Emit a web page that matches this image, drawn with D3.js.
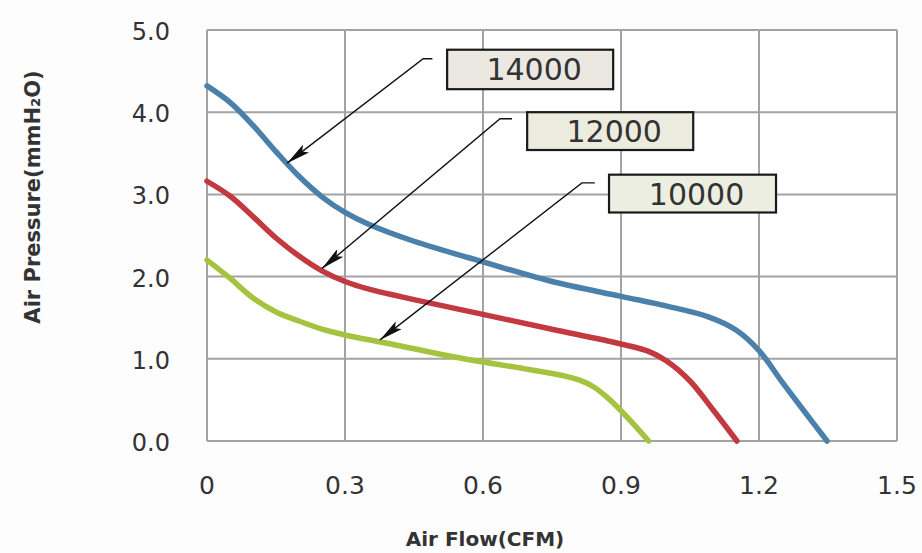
<!DOCTYPE html>
<html>
  <head>
    <style type="text/css">
      body { margin:0; background:#fdfdfd; }
      text { font-family:"DejaVu Sans",sans-serif; fill:#333; }
      .grid line { stroke:#a3a3a3; stroke-width:2; }
      .curve { fill:none; stroke-width:5.5; stroke-linecap:round; stroke-linejoin:round; }
    </style>
  </head>
  <body>
    <div id="canvas"></div>
    <script type="text/javascript" src="https://cdn.jsdelivr.net/npm/d3@7/dist/d3.min.js"></script>
    <script type="text/javascript">
      // ticks
      var xTicks = [0, 0.3, 0.6, 0.9, 1.2, 1.5];
      var xTickLabels = ['0', '0.3', '0.6', '0.9', '1.2', '1.5'];
      var yTicks = [0, 1, 2, 3, 4, 5];
      var yTickLabels = ['0.0', '1.0', '2.0', '3.0', '4.0', '5.0'];

      // fan curves: [airflow CFM, pressure mmH2O]
      var rpm14000 = [[0,4.32],[0.05,4.12],[0.1,3.84],[0.15,3.52],[0.2,3.22],[0.25,2.97],[0.3,2.78],
                      [0.35,2.64],[0.45,2.43],[0.6,2.18],[0.75,1.94],[0.9,1.76],[1.0,1.64],[1.09,1.51],
                      [1.15,1.35],[1.2,1.1],[1.25,0.72],[1.3,0.35],[1.348,0]];
      var rpm12000 = [[0,3.16],[0.05,2.98],[0.1,2.73],[0.15,2.47],[0.2,2.25],[0.25,2.07],[0.3,1.94],
                      [0.35,1.85],[0.45,1.72],[0.6,1.54],[0.75,1.36],[0.9,1.18],[0.96,1.09],[1.0,0.97],
                      [1.05,0.73],[1.1,0.38],[1.152,0]];
      var rpm10000 = [[0,2.2],[0.05,1.98],[0.1,1.74],[0.15,1.57],[0.2,1.46],[0.25,1.36],[0.3,1.29],
                      [0.4,1.18],[0.55,1.01],[0.7,0.87],[0.77,0.8],[0.81,0.74],[0.84,0.66],[0.87,0.53],
                      [0.91,0.31],[0.96,0]];

      var seriesNames = ['14000', '12000', '10000'];
      var seriesData = [rpm14000, rpm12000, rpm10000];
      var seriesColors = ['#4a80aa', '#c23a40', '#a5c33f'];

      // callout boxes: box corner/size in data units, elbow and arrow tip on the curve
      var callouts = [
        {box:[0.522, 4.76, 0.361, 0.48], elbow:[0.47, 4.65, 0.49], tip:[0.174, 3.38], fill:'#ebe7e1'},
        {box:[0.696, 4.0, 0.361, 0.46], elbow:[0.637, 3.92, 0.663], tip:[0.25, 2.10], fill:'#ebecde'},
        {box:[0.874, 3.24, 0.363, 0.46], elbow:[0.815, 3.14, 0.843], tip:[0.376, 1.23], fill:'#eceee2'}
      ];

      var margin = {top:30, left:207},
          width = 690,
          height = 411;

      var svg = d3.select('#canvas').append('svg')
                  .attr('width', 922)
                  .attr('height', 553);

      svg.append('defs').append('marker')
         .attr('id', 'head')
         .attr('viewBox', '0 0 24 10')
         .attr('refX', 24).attr('refY', 5)
         .attr('markerWidth', 24).attr('markerHeight', 10)
         .attr('markerUnits', 'userSpaceOnUse')
         .attr('orient', 'auto')
         .append('path').attr('d', 'M0,0 L24,5 L0,10 L5,5 Z').attr('fill', '#111');

      var g = svg.append('g').attr('transform', 'translate(' + margin.left + ',' + margin.top + ')');

      var x = d3.scaleLinear().domain([0, 1.5]).range([0, width]);
      var y = d3.scaleLinear().domain([0, 5]).range([height, 0]);

      g.append('rect').attr('width', width).attr('height', height).attr('fill', '#fff');

      var grid = g.append('g').attr('class', 'grid');
      grid.selectAll('.vx').data(xTicks).enter().append('line')
          .attr('x1', function (d) { return x(d); }).attr('x2', function (d) { return x(d); })
          .attr('y1', 0).attr('y2', height);
      grid.selectAll('.hy').data(yTicks).enter().append('line')
          .attr('y1', function (d) { return y(d); }).attr('y2', function (d) { return y(d); })
          .attr('x1', 0).attr('x2', width);

      // tick labels
      g.selectAll('.xt').data(xTicks).enter().append('text')
       .attr('x', function (d) { return x(d); })
       .attr('y', height + 53)
       .attr('text-anchor', 'middle')
       .style('font-size', '25px')
       .text(function (d, i) { return xTickLabels[i]; });
      g.selectAll('.yt').data(yTicks).enter().append('text')
       .attr('x', -37)
       .attr('y', function (d) { return y(d) + 10; })
       .attr('text-anchor', 'end')
       .style('font-size', '24px')
       .text(function (d, i) { return yTickLabels[i]; });

      var line = d3.line()
                   .x(function (d) { return x(d[0]); })
                   .y(function (d) { return y(d[1]); })
                   .curve(d3.curveCatmullRom.alpha(0.5));

      g.selectAll('.curve').data(seriesData).enter().append('path')
       .attr('class', 'curve')
       .attr('stroke', function (d, i) { return seriesColors[i]; })
       .attr('d', line);

      // callouts
      callouts.forEach(function (c, i) {
        g.append('polyline')
         .attr('points', [[x(c.elbow[2]), y(c.elbow[1])], [x(c.elbow[0]), y(c.elbow[1])], [x(c.tip[0]), y(c.tip[1])]].join(' '))
         .attr('fill', 'none').attr('stroke', '#111').attr('stroke-width', 1.4)
         .attr('marker-end', 'url(#head)');
        var bx = x(c.box[0]), by = y(c.box[1]),
            bw = x(c.box[2]) - x(0), bh = y(0) - y(c.box[3]);
        g.append('rect')
         .attr('x', bx).attr('y', by).attr('width', bw).attr('height', bh)
         .attr('fill', c.fill).attr('stroke', '#1a1a1a').attr('stroke-width', 2.2);
        g.append('text')
         .attr('x', bx + bw / 2 + 4).attr('y', by + bh / 2 + 11)
         .attr('text-anchor', 'middle')
         .style('font-size', '30px')
         .text(seriesNames[i]);
      });

      // axis titles
      svg.append('text')
         .attr('transform', 'translate(40,197) rotate(-90)')
         .attr('text-anchor', 'middle')
         .style('font-size', '21px').style('font-weight', 'bold')
         .text('Air Pressure(mmH\u2082O)');
      svg.append('text')
         .attr('x', 485).attr('y', 546)
         .attr('text-anchor', 'middle')
         .style('font-size', '20px').style('font-weight', 'bold')
         .text('Air Flow(CFM)');
    </script>
  </body>
</html>
